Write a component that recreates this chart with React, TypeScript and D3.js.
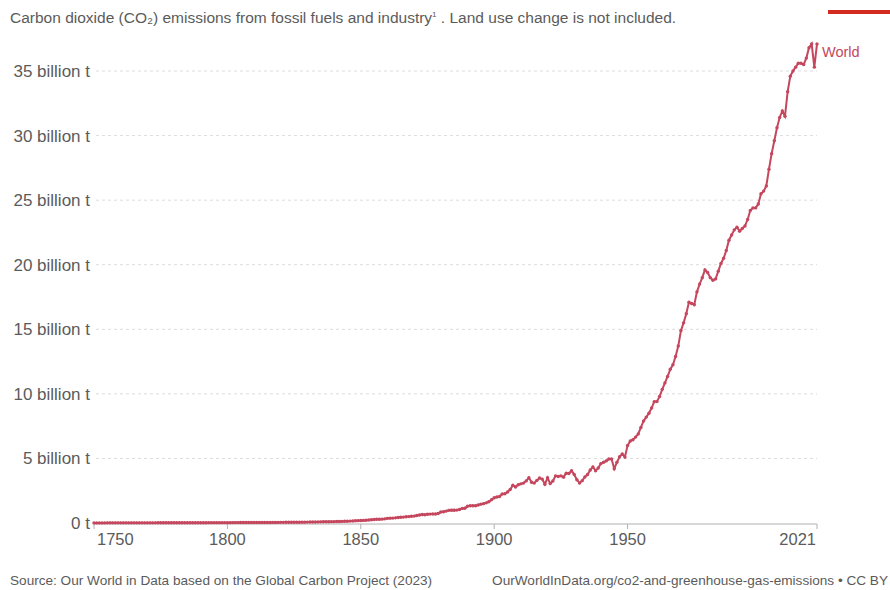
import { useRef, useEffect } from 'react';
import { select, scaleLinear, line, curveLinear } from 'd3';

// Annual CO2 emissions, World, billion tonnes
const startYear = 1750;
const emissions = [
    // 1750s
    0.009, 0.009, 0.009, 0.009, 0.009, 0.010, 0.010, 0.010, 0.010, 0.010,
    // 1760s
    0.010, 0.010, 0.010, 0.010, 0.011, 0.011, 0.011, 0.012, 0.012, 0.012,
    // 1770s
    0.012, 0.013, 0.013, 0.013, 0.014, 0.014, 0.014, 0.015, 0.015, 0.016,
    // 1780s
    0.016, 0.017, 0.017, 0.018, 0.018, 0.019, 0.020, 0.021, 0.022, 0.023,
    // 1790s
    0.024, 0.025, 0.025, 0.026, 0.026, 0.027, 0.027, 0.028, 0.028, 0.029,
    // 1800s
    0.028, 0.029, 0.031, 0.031, 0.032, 0.033, 0.034, 0.035, 0.035, 0.036,
    // 1810s
    0.036, 0.037, 0.038, 0.039, 0.040, 0.042, 0.043, 0.045, 0.046, 0.047,
    // 1820s
    0.049, 0.051, 0.053, 0.055, 0.057, 0.060, 0.061, 0.063, 0.065, 0.067,
    // 1830s
    0.068, 0.072, 0.076, 0.079, 0.084, 0.089, 0.093, 0.096, 0.100, 0.104,
    // 1840s
    0.106, 0.114, 0.120, 0.123, 0.130, 0.140, 0.148, 0.160, 0.170, 0.182,
    // 1850s
    0.197, 0.201, 0.215, 0.230, 0.255, 0.270, 0.285, 0.292, 0.300, 0.320,
    // 1860s
    0.362, 0.375, 0.378, 0.400, 0.427, 0.450, 0.458, 0.482, 0.495, 0.520,
    // 1870s
    0.534, 0.575, 0.620, 0.660, 0.640, 0.676, 0.690, 0.700, 0.700, 0.740,
    // 1880s
    0.850, 0.870, 0.920, 0.980, 0.990, 0.990, 1.000, 1.040, 1.130, 1.140,
    // 1890s
    1.300, 1.330, 1.340, 1.340, 1.390, 1.460, 1.500, 1.560, 1.650, 1.800,
    // 1900s
    1.950, 2.010, 2.050, 2.240, 2.260, 2.400, 2.590, 2.920, 2.790, 2.960,
    // 1910s
    3.030, 3.090, 3.260, 3.500, 3.160, 3.090, 3.300, 3.480, 3.400, 3.000,
    // 1920s
    3.500, 3.050, 3.250, 3.650, 3.600, 3.650, 3.550, 3.860, 3.830, 4.050,
    // 1930s
    3.750, 3.350, 3.090, 3.280, 3.560, 3.750, 4.100, 4.340, 4.050, 4.260,
    // 1940s
    4.600, 4.700, 4.810, 4.950, 4.950, 4.200, 4.700, 5.130, 5.350, 5.110,
    // 1950s
    6.000, 6.350, 6.450, 6.650, 6.900, 7.400, 7.900, 8.200, 8.500, 8.900,
    // 1960s
    9.400, 9.400, 9.800, 10.350, 10.850, 11.350, 11.900, 12.250, 12.900, 13.700,
    // 1970s
    14.900, 15.500, 16.200, 17.100, 17.000, 16.900, 17.900, 18.500, 19.000, 19.600,
    // 1980s
    19.400, 19.000, 18.800, 18.900, 19.500, 20.100, 20.500, 21.100, 21.900, 22.300,
    // 1990s
    22.700, 22.900, 22.600, 22.800, 23.000, 23.500, 24.200, 24.400, 24.400, 24.700,
    // 2000s
    25.500, 25.700, 26.100, 27.400, 28.600, 29.600, 30.600, 31.400, 31.900, 31.500,
    // 2010s
    33.400, 34.600, 35.000, 35.300, 35.600, 35.600, 35.500, 36.000, 36.800, 37.100,
    // 2020s
    35.300, 37.100,
];
const years = emissions.map((_, i) => startYear + i);

const yTicks = [0, 5, 10, 15, 20, 25, 30, 35];
const yTickLabels = ['0 t', '5 billion t', '10 billion t', '15 billion t', '20 billion t', '25 billion t', '30 billion t', '35 billion t'];
const xTicks = [1750, 1800, 1850, 1900, 1950, 2021];

const title = 'Carbon dioxide (CO₂) emissions from fossil fuels and industry';
const seriesName = 'World';
const sourceText = 'Source: Our World in Data based on the Global Carbon Project (2023)';
const linkText = 'OurWorldInData.org/co2-and-greenhouse-gas-emissions • CC BY';

function App() {
    const graphRef = useRef<SVGSVGElement | null>(null);

    const width = 890;
    const height = 590;
    const lineColor = '#c5475e';
    const textColor = '#5b5b5b';
    const font = '"Liberation Sans", Arial, sans-serif';

    const x = scaleLinear().domain([1750, 2021]).range([94, 817]);
    const y = scaleLinear().domain([0, 35]).range([523, 71]);

    useEffect(() => {
        document.body.style.margin = '0';
        const svg = select(graphRef.current);
        svg.selectAll('*').remove();
        svg.style('font-family', font);

        // Title
        const t = svg.append('text').attr('x', 10).attr('y', 23).attr('font-size', 15.5).attr('fill', textColor);
        t.append('tspan').text(title);
        t.append('tspan').text('1').attr('font-size', 8).attr('dy', -6);
        t.append('tspan').text(' . Land use change is not included.').attr('dy', 6);

        // Red bar top right
        svg.append('rect').attr('x', 828).attr('y', 10).attr('width', 62).attr('height', 4).attr('fill', '#d42b21');

        // Grid lines + y labels
        const yAxis = svg.append('g');
        yAxis
            .selectAll('line')
            .data(yTicks.slice(1))
            .join('line')
            .attr('x1', 96)
            .attr('x2', 817)
            .attr('y1', (d) => y(d))
            .attr('y2', (d) => y(d))
            .attr('stroke', '#dcdcdc')
            .attr('stroke-dasharray', '3,3');
        yAxis
            .selectAll('text')
            .data(yTicks)
            .join('text')
            .attr('x', 90)
            .attr('y', (d) => y(d))
            .attr('dy', '0.35em')
            .attr('text-anchor', 'end')
            .attr('font-size', 17)
            .attr('fill', textColor)
            .text((d, i) => yTickLabels[i]);

        // X axis
        const xAxis = svg.append('g');
        xAxis
            .append('line')
            .attr('x1', x(1750))
            .attr('x2', x(2021))
            .attr('y1', 524)
            .attr('y2', 524)
            .attr('stroke', '#b0b0b0');
        xAxis
            .selectAll('line.tick')
            .data(xTicks)
            .join('line')
            .attr('class', 'tick')
            .attr('x1', (d) => x(d))
            .attr('x2', (d) => x(d))
            .attr('y1', 524)
            .attr('y2', 529)
            .attr('stroke', '#b0b0b0');
        xAxis
            .selectAll('text')
            .data(xTicks)
            .join('text')
            .attr('x', (d) => (d === 1750 ? x(d) + 3 : d === 2021 ? x(d) - 1 : x(d)))
            .attr('y', 545)
            .attr('text-anchor', (d) => (d === 1750 ? 'start' : d === 2021 ? 'end' : 'middle'))
            .attr('font-size', 16.5)
            .attr('fill', textColor)
            .text((d) => `${d}`);

        // Line
        const path = line<number>()
            .x((d, i) => x(years[i]))
            .y((d) => y(d))
            .curve(curveLinear);
        svg.append('path')
            .attr('d', path(emissions))
            .attr('fill', 'none')
            .attr('stroke', lineColor)
            .attr('stroke-width', 2);
        svg.append('g')
            .selectAll('circle')
            .data(emissions)
            .join('circle')
            .attr('cx', (d, i) => x(years[i]))
            .attr('cy', (d) => y(d))
            .attr('r', 1.7)
            .attr('fill', lineColor);

        // Series label
        svg.append('text')
            .attr('x', 822)
            .attr('y', 52)
            .attr('dy', '0.35em')
            .attr('font-size', 14.5)
            .attr('fill', lineColor)
            .text(seriesName);

        // Footer
        svg.append('text').attr('x', 10).attr('y', 585).attr('font-size', 13.6).attr('fill', textColor).text(sourceText);
        svg.append('text')
            .attr('x', 888)
            .attr('y', 585)
            .attr('text-anchor', 'end')
            .attr('font-size', 13.6)
            .attr('fill', textColor)
            .text(linkText);
    }, []);

    return (
        <div>
            <svg
                ref={graphRef}
                width={width}
                height={height}
                style={{ position: 'absolute', left: 0, top: 0, background: 'white' }}
            ></svg>
        </div>
    );
}

export default App;
